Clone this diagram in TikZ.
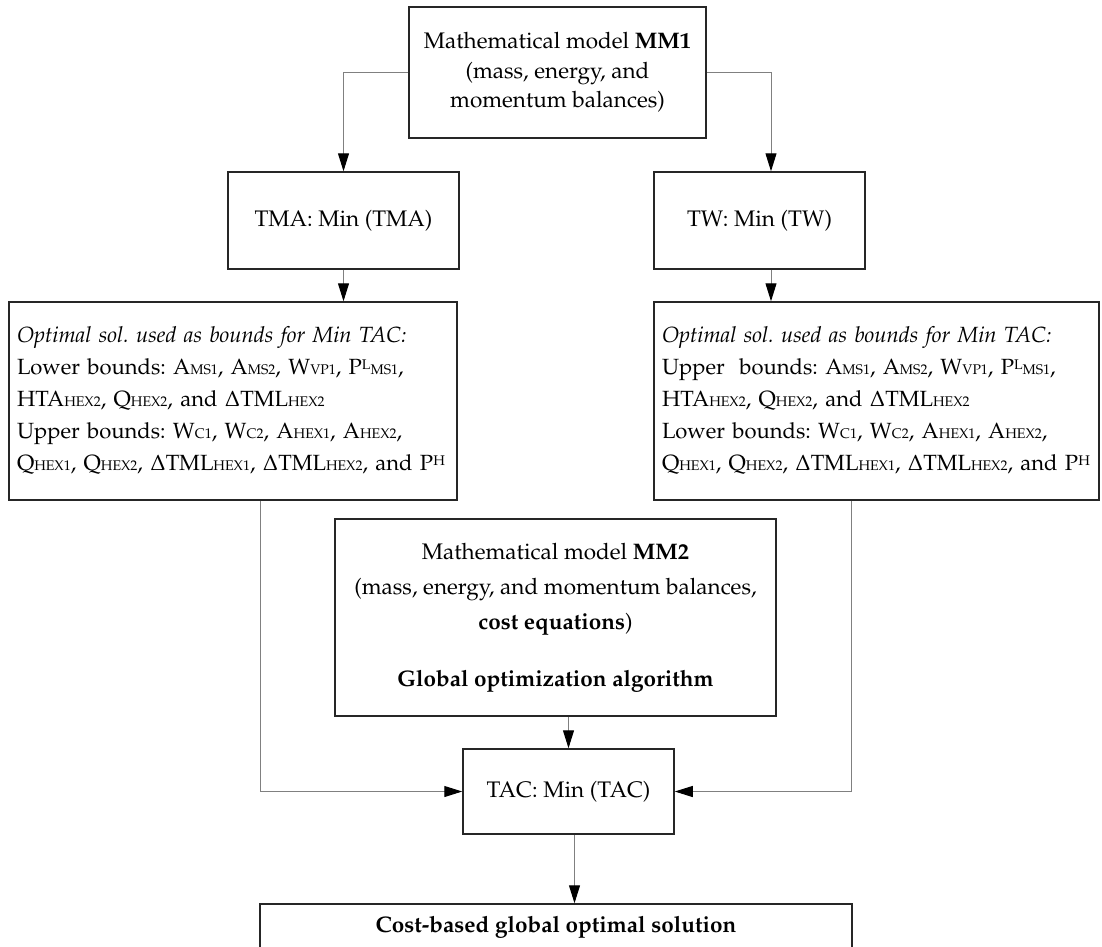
\documentclass[tikz,border=0pt]{standalone}
\usepackage[T1]{fontenc}
\usepackage{mathpazo}
\usetikzlibrary{arrows.meta}
\newcommand{\sbx}[1]{{\fontsize{14}{14}\selectfont #1}}
\newcommand{\spx}[1]{\raisebox{5.5pt}{\fontsize{14}{14}\selectfont #1}}
\tikzset{
  box/.style={draw=black!85, line width=1.5pt, inner sep=0pt, align=center,
    font=\fontsize{22.5}{29.5}\selectfont},
  bbox/.style={box, align=left, font=\fontsize{22}{32}\selectfont},
  conn/.style={draw=black!50, line width=1pt,
    -{Triangle[length=18pt,width=11pt,color=black]}},
  feed/.style={draw=black!50, line width=1pt}
}
\begin{document}
\frenchspacing
\begin{tikzpicture}[x=1pt,y=-1pt]
\useasboundingbox (0,0) rectangle (1102,946);
\fill[white] (0,0) rectangle (1102,946);
\clip (0,0) rectangle (1102,946);

\node[box, minimum width=297pt, minimum height=131pt] (mm1) at (557.5,72.5)
  {Mathematical model \textbf{MM1}\\(mass, energy, and\\momentum balances)};
\node[box, minimum width=231pt, minimum height=97pt] (tma) at (343.5,220.5)
  {TMA: Min (TMA)};
\node[box, minimum width=211pt, minimum height=97pt] (tw) at (759.5,220.5)
  {TW: Min (TW)};

\node[bbox, minimum width=448pt, minimum height=198pt, text width=432pt] (lb) at (233,401)
  {\textit{Optimal sol. used as bounds for Min TAC:}\\
   Lower bounds: A\sbx{MS1}, A\sbx{MS2}, W\sbx{VP1}, P\spx{L}\sbx{MS1},\\
   HTA\sbx{HEX2}, Q\sbx{HEX2}, and $\Delta$TML\sbx{HEX2}\\
   Upper bounds: W\sbx{C1}, W\sbx{C2}, A\sbx{HEX1}, A\sbx{HEX2},\\
   Q\sbx{HEX1}, Q\sbx{HEX2}, $\Delta$TML\sbx{HEX1}, $\Delta$TML\sbx{HEX2}, and P\spx{H}};
\node[bbox, minimum width=445pt, minimum height=198pt, text width=429pt] (rb) at (876.5,401)
  {\textit{Optimal sol. used as bounds for Min TAC:}\\
   Upper\ \ bounds: A\sbx{MS1}, A\sbx{MS2}, W\sbx{VP1}, P\spx{L}\sbx{MS1},\\
   HTA\sbx{HEX2}, Q\sbx{HEX2}, and $\Delta$TML\sbx{HEX2}\\
   Lower bounds: W\sbx{C1}, W\sbx{C2}, A\sbx{HEX1}, A\sbx{HEX2},\\
   Q\sbx{HEX1}, Q\sbx{HEX2}, $\Delta$TML\sbx{HEX1}, $\Delta$TML\sbx{HEX2}, and P\spx{H}};

\node[box, font=\fontsize{22.5}{35}\selectfont, minimum width=441pt, minimum height=197pt] (mm2) at (555.5,617.5)
  {Mathematical model \textbf{MM2}\\
   (mass, energy, and momentum balances,\\
   \textbf{cost equations})\\[22pt]
   \textbf{Global optimization algorithm}};

\node[box, minimum width=211pt, minimum height=85pt] (tac) at (568.5,791.5)
  {TAC: Min (TAC)};
\node[box, minimum width=592pt, minimum height=46pt] (fin) at (556,927)
  {\textbf{Cost-based global optimal solution}};

\draw[conn] (mm1.west) -| (tma.north);
\draw[conn] (mm1.east) -| ([xshift=11.5pt]tw.north);
\draw[conn] (tma.south) -- (tma.south |- lb.north);
\draw[conn] ([xshift=11.5pt]tw.south) -- ([xshift=11.5pt]tw.south |- rb.north);
\draw[conn] ([xshift=27pt]lb.south) |- (tac.west);
\draw[conn] ([xshift=-25.5pt]rb.south) |- (tac.east);
\draw[conn] (tac.north |- mm2.south) -- (tac.north);
\draw[conn] ([xshift=6pt]tac.south) -- ([xshift=6pt]tac.south |- fin.north);
\end{tikzpicture}
\end{document}
